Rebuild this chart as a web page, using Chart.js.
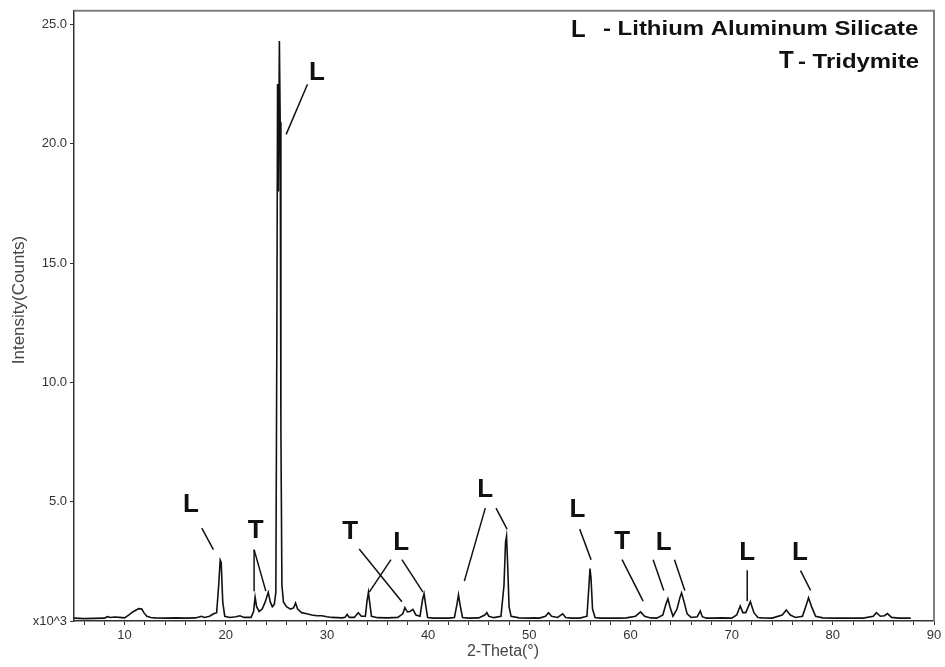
<!DOCTYPE html>
<html><head><meta charset="utf-8">
<script src="https://cdn.jsdelivr.net/npm/chart.js@4.4.1/dist/chart.umd.min.js"></script>
<style>html,body{margin:0;padding:0;background:#fff;}#wrap{width:945px;height:667px;}</style>
</head><body><div id="wrap"><canvas id="c" width="945" height="667"></canvas></div>
<script>
// 2-Theta (degrees)
const twoTheta = [5.0,6.0,7.0,8.0,8.3,8.6,9.0,9.5,10.0,10.4,10.8,11.1,11.4,11.7,11.9,12.2,12.6,13.0,14.0,15.0,16.0,17.0,17.6,17.9,18.4,18.8,19.1,19.3,19.45,19.55,19.7,19.9,20.4,21.0,21.4,21.8,22.5,22.75,22.9,23.05,23.3,23.6,23.9,24.2,24.4,24.6,24.8,24.95,25.05,25.12,25.2,25.3,25.38,25.45,25.55,25.7,26.0,26.4,26.7,26.9,27.1,27.5,28.0,28.5,29.0,29.5,30.0,30.5,31.0,31.5,31.8,32.0,32.2,32.7,33.1,33.4,33.8,33.95,34.1,34.25,34.4,35.0,36.0,37.0,37.5,37.7,37.95,38.2,38.5,38.8,39.2,39.45,39.6,39.75,39.95,40.5,41.0,42.0,42.6,42.85,43.0,43.15,43.4,44.0,45.0,45.6,45.8,46.0,46.5,47.2,47.5,47.65,47.75,47.85,48.0,48.2,49.0,50.0,50.5,51.0,51.6,51.9,52.2,52.8,53.3,53.6,54.2,55.0,55.7,55.9,56.0,56.1,56.25,56.5,57.0,58.0,59.0,59.6,60.5,61.0,61.4,62.0,62.6,63.2,63.5,63.7,63.9,64.2,64.6,64.9,65.05,65.3,65.6,66.0,66.6,66.9,67.1,67.5,68.0,69.0,70.0,70.5,70.85,71.1,71.4,71.85,72.2,72.6,73.0,74.0,75.0,75.4,75.8,76.3,77.0,77.4,77.6,77.9,78.3,79.0,80.0,81.0,82.0,83.0,84.0,84.3,84.7,85.1,85.4,85.8,86.5,87.0,87.7];
// Intensity (x10^3 counts)
const intensity = [0.12,0.10,0.11,0.12,0.18,0.15,0.17,0.15,0.13,0.25,0.38,0.45,0.52,0.50,0.35,0.20,0.15,0.13,0.12,0.13,0.12,0.13,0.20,0.15,0.20,0.30,0.35,1.5,2.55,2.45,0.8,0.20,0.15,0.18,0.22,0.15,0.15,0.4,1.0,0.6,0.4,0.5,0.8,1.2,0.8,0.6,0.7,1.2,12,22.5,18,24.3,20.9,8,1.5,0.8,0.6,0.5,0.55,0.75,0.5,0.35,0.3,0.25,0.22,0.22,0.18,0.15,0.14,0.13,0.16,0.28,0.15,0.15,0.35,0.2,0.2,0.8,1.2,0.7,0.2,0.14,0.13,0.15,0.3,0.56,0.38,0.4,0.49,0.25,0.2,0.9,1.14,0.7,0.15,0.12,0.12,0.12,0.15,0.7,1.1,0.7,0.15,0.12,0.13,0.25,0.35,0.2,0.14,0.2,1.5,3.3,3.55,2.5,0.6,0.2,0.13,0.12,0.13,0.12,0.2,0.35,0.2,0.15,0.3,0.15,0.12,0.12,0.2,1.5,2.2,1.8,0.5,0.15,0.12,0.12,0.12,0.13,0.2,0.38,0.2,0.13,0.12,0.25,0.7,0.93,0.6,0.2,0.5,1.0,1.18,0.8,0.3,0.15,0.18,0.42,0.18,0.12,0.12,0.13,0.12,0.25,0.63,0.35,0.35,0.81,0.35,0.15,0.13,0.12,0.25,0.46,0.25,0.15,0.2,0.7,0.97,0.6,0.2,0.13,0.12,0.12,0.12,0.12,0.2,0.35,0.2,0.22,0.31,0.15,0.12,0.12,0.12];

const yTickLabels = ['x10^3','5.0','10.0','15.0','20.0','25.0'];
const xAxisTitle = '2-Theta(°)';
const yAxisTitle = 'Intensity(Counts)';

// phase labels: letter, label position [2θ, I], leader lines [2θ1, I1, 2θ2, I2]
const annoLetters = ['L','T','L','T','L','L','L','T','L','L','L'];
const annoPos = [[16.57,4.86],[22.97,3.78],[29.0,22.99],[32.30,3.74],[37.34,3.28],[45.65,5.49],[54.75,4.65],[59.17,3.33],[63.29,3.27],[71.54,2.85],[76.74,2.85]];
const annoLines = [
  [[17.63,3.89,18.78,2.99]],
  [[22.80,2.99,22.80,1.25],[22.80,2.99,23.96,1.25]],
  [[28.08,22.49,25.97,20.39]],
  [[33.19,3.02,37.41,0.81]],
  [[36.33,2.57,34.18,1.21],[37.41,2.57,39.49,1.21]],
  [[45.65,4.73,43.58,1.67],[46.71,4.73,47.80,3.85]],
  [[54.98,3.85,56.11,2.57]],
  [[59.17,2.57,61.25,0.83]],
  [[62.24,2.57,63.29,1.28],[64.35,2.57,65.37,1.28]],
  [[71.54,2.125,71.54,0.83]],
  [[76.81,2.11,77.80,1.28]]
];
const legendKeys = ['L','T'];
const legendTexts = ['- Lithium Aluminum Silicate','- Tridymite'];

const FONT = "'Liberation Sans', Arial, sans-serif";

function stretchText(ctx, text, x, y, sx) {
  ctx.save(); ctx.translate(x, y); ctx.scale(sx, 1); ctx.fillText(text, 0, 0); ctx.restore();
}

const overlay = {
  id: 'overlay',
  afterDraw(chart) {
    const ctx = chart.ctx, xs = chart.scales.x, ys = chart.scales.y, a = chart.chartArea;
    ctx.save();
    // frame top & right
    ctx.strokeStyle = '#808080'; ctx.lineWidth = 2;
    ctx.beginPath(); ctx.moveTo(a.left, a.top); ctx.lineTo(a.right, a.top); ctx.lineTo(a.right, a.bottom); ctx.stroke();
    // annotations
    ctx.fillStyle = '#111'; ctx.strokeStyle = '#111'; ctx.lineWidth = 1.5;
    ctx.textAlign = 'center'; ctx.textBaseline = 'middle';
    ctx.font = 'bold 26px ' + FONT;
    annoLetters.forEach((t, i) => {
      ctx.fillText(t, xs.getPixelForValue(annoPos[i][0]), ys.getPixelForValue(annoPos[i][1]));
      annoLines[i].forEach(l => {
        ctx.beginPath();
        ctx.moveTo(xs.getPixelForValue(l[0]), ys.getPixelForValue(l[1]));
        ctx.lineTo(xs.getPixelForValue(l[2]), ys.getPixelForValue(l[3]));
        ctx.stroke();
      });
    });
    // legend
    ctx.textAlign = 'left'; ctx.textBaseline = 'alphabetic';
    ctx.font = 'bold 24px ' + FONT;
    ctx.fillText(legendKeys[0], 571, 37);
    ctx.fillText(legendKeys[1], 779, 68);
    ctx.font = 'bold 21px ' + FONT;
    stretchText(ctx, legendTexts[0], 603, 35, 1.14);
    stretchText(ctx, legendTexts[1], 798, 68, 1.14);
    // axis titles
    ctx.fillStyle = '#444';
    ctx.font = '16px ' + FONT;
    ctx.textAlign = 'center'; ctx.textBaseline = 'middle';
    ctx.fillText(xAxisTitle, 503, 652);
    ctx.save(); ctx.translate(19, 300); ctx.rotate(-Math.PI / 2);
    ctx.font = '17px ' + FONT;
    ctx.fillText(yAxisTitle, 0, 0);
    ctx.restore();
    ctx.restore();
  }
};

new Chart(document.getElementById('c'), {
  type: 'scatter',
  data: {
    datasets: [{
      data: twoTheta.map((x, i) => ({x: x, y: intensity[i]})),
      showLine: true, borderColor: '#111', borderWidth: 1.6, pointRadius: 0, tension: 0, fill: false
    }]
  },
  options: {
    responsive: false, animation: false, devicePixelRatio: 1,
    layout: {padding: {top: 8, right: 11, left: 0, bottom: 0}},
    plugins: {legend: {display: false}, tooltip: {enabled: false}},
    scales: {
      x: {
        type: 'linear', min: 5, max: 90,
        ticks: {stepSize: 2, includeBounds: false, autoSkip: false, maxRotation: 0, color: '#333', padding: 3,
          font: {family: FONT, size: 13}, callback: v => (v % 10 === 0 ? String(v) : '')},
        grid: {drawOnChartArea: false, drawTicks: true, tickLength: 4, color: '#333', lineWidth: 1},
        border: {display: true, color: '#333', width: 1.5},
        afterFit: s => { s.height = 46; }
      },
      y: {
        min: 0, max: 25.57,
        ticks: {stepSize: 5, includeBounds: false, color: '#333', padding: 3,
          font: {family: FONT, size: 13}, callback: v => yTickLabels[Math.round(v / 5)]},
        grid: {drawOnChartArea: false, drawTicks: true, tickLength: 4, color: '#333', lineWidth: 1},
        border: {display: true, color: '#333', width: 1.5},
        afterFit: s => { s.width = 74; }
      }
    }
  },
  plugins: [overlay]
});
</script></body></html>
